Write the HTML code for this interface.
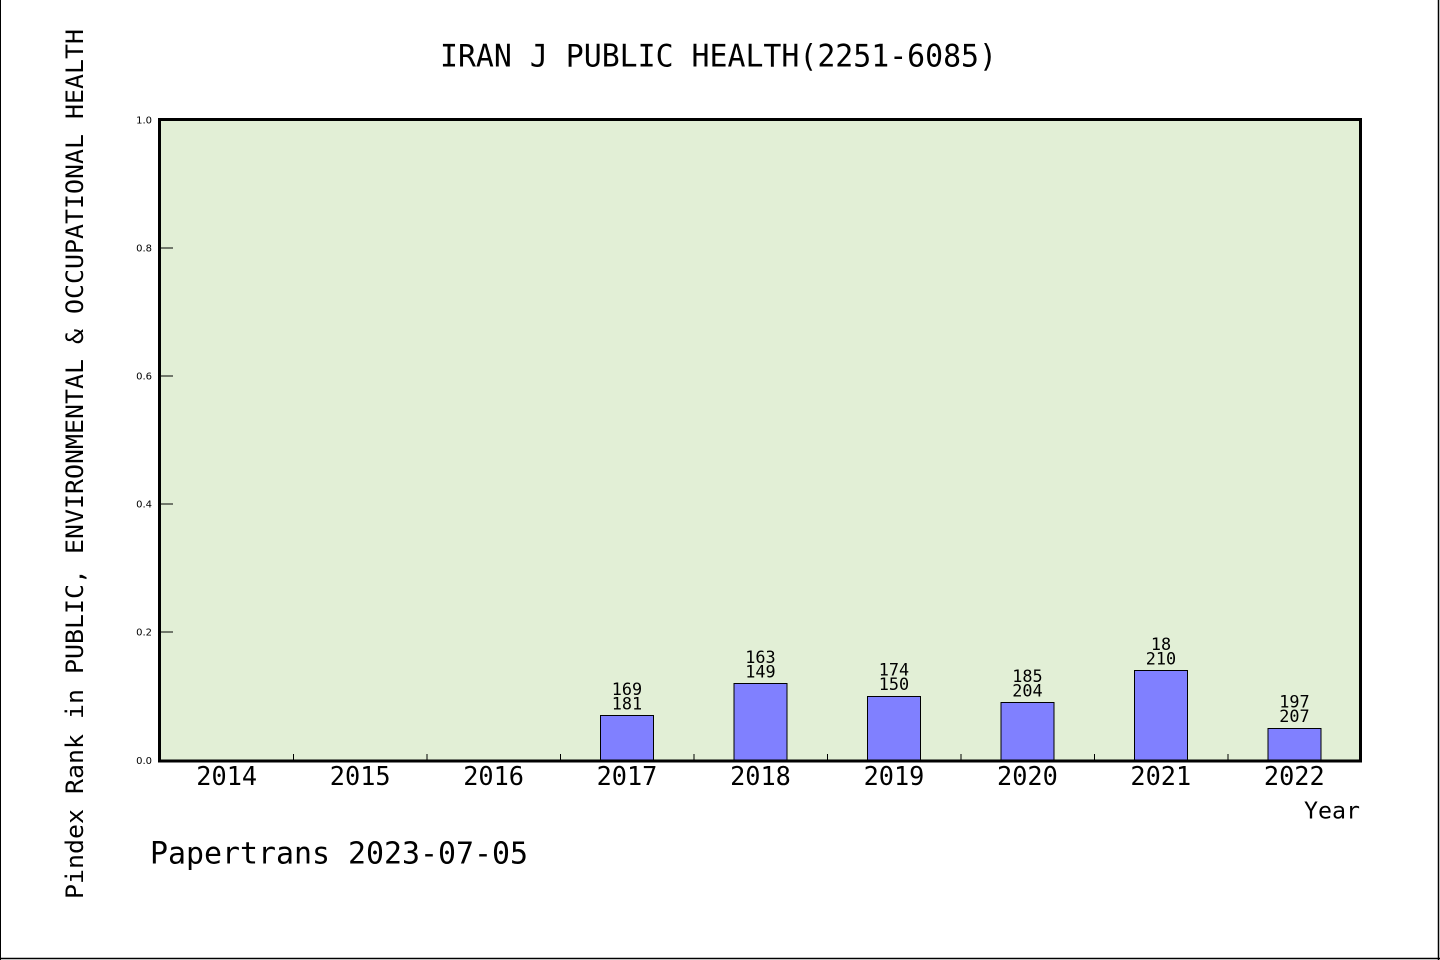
<!DOCTYPE html>
<html>
<head>
<meta charset="utf-8">
<style>
  html, body { margin: 0; padding: 0; background: #ffffff; }
  body { width: 1440px; height: 960px; overflow: hidden; }
  svg { display: block; }
  .m { font-family: "WenQuanYi Zen Hei", "DejaVu Sans Mono", "Liberation Sans", monospace; fill: #000; }
  .t { font-family: "DejaVu Sans", "Liberation Sans", sans-serif; font-size: 10px; fill: #000; }
</style>
</head>
<body>
<svg width="1440" height="960" viewBox="0 0 1440 960" xmlns="http://www.w3.org/2000/svg">
  <rect x="0" y="0" width="1440" height="960" fill="#ffffff"/>
  <!-- outer border -->
  <line x1="0.5" y1="0" x2="0.5" y2="960" stroke="#000" stroke-width="1"/>
  <line x1="1438.5" y1="0" x2="1438.5" y2="960" stroke="#000" stroke-width="1.5"/>
  <line x1="0" y1="958.5" x2="1440" y2="958.5" stroke="#000" stroke-width="1.5"/>

  <!-- title -->
  <text class="m" x="440" y="66.5" font-size="31" textLength="557" lengthAdjust="spacingAndGlyphs">IRAN J PUBLIC HEALTH(2251-6085)</text>

  <!-- plot background -->
  <rect x="159.5" y="119.5" width="1201" height="641.5" fill="#e2efd6"/>

  <!-- bars -->
  <g fill="#8080ff" stroke="#000" stroke-width="1">
    <rect x="600.5" y="715.5" width="53" height="46"/>
    <rect x="734" y="683.5" width="53" height="78"/>
    <rect x="867.5" y="696.5" width="53" height="65"/>
    <rect x="1001" y="702.5" width="53" height="59"/>
    <rect x="1134.5" y="670.5" width="53" height="91"/>
    <rect x="1268" y="728.5" width="53" height="33"/>
  </g>

  <!-- bar labels -->
  <g class="m" font-size="16.5" text-anchor="middle">
    <text x="627" y="695" textLength="30.4" lengthAdjust="spacingAndGlyphs">169</text>
    <text x="627" y="709.5" textLength="30.4" lengthAdjust="spacingAndGlyphs">181</text>
    <text x="760.5" y="663" textLength="30.4" lengthAdjust="spacingAndGlyphs">163</text>
    <text x="760.5" y="677.5" textLength="30.4" lengthAdjust="spacingAndGlyphs">149</text>
    <text x="894" y="675.5" textLength="30.4" lengthAdjust="spacingAndGlyphs">174</text>
    <text x="894" y="690" textLength="30.4" lengthAdjust="spacingAndGlyphs">150</text>
    <text x="1027.5" y="682" textLength="30.4" lengthAdjust="spacingAndGlyphs">185</text>
    <text x="1027.5" y="696.5" textLength="30.4" lengthAdjust="spacingAndGlyphs">204</text>
    <text x="1161" y="650" textLength="20.3" lengthAdjust="spacingAndGlyphs">18</text>
    <text x="1161" y="664.5" textLength="30.4" lengthAdjust="spacingAndGlyphs">210</text>
    <text x="1294.5" y="707.5" textLength="30.4" lengthAdjust="spacingAndGlyphs">197</text>
    <text x="1294.5" y="722" textLength="30.4" lengthAdjust="spacingAndGlyphs">207</text>
  </g>

  <!-- y ticks -->
  <g stroke="#000" stroke-width="1">
    <line x1="161" y1="248" x2="173" y2="248"/>
    <line x1="161" y1="376" x2="173" y2="376"/>
    <line x1="161" y1="504" x2="173" y2="504"/>
    <line x1="161" y1="632" x2="173" y2="632"/>
  </g>
  <!-- x ticks -->
  <g stroke="#000" stroke-width="1">
    <line x1="293.5" y1="754" x2="293.5" y2="760"/>
    <line x1="427" y1="754" x2="427" y2="760"/>
    <line x1="560.5" y1="754" x2="560.5" y2="760"/>
    <line x1="694" y1="754" x2="694" y2="760"/>
    <line x1="827.5" y1="754" x2="827.5" y2="760"/>
    <line x1="961" y1="754" x2="961" y2="760"/>
    <line x1="1094.5" y1="754" x2="1094.5" y2="760"/>
    <line x1="1228" y1="754" x2="1228" y2="760"/>
  </g>

  <!-- plot frame -->
  <rect x="159.5" y="119.5" width="1201" height="641.5" fill="none" stroke="#000" stroke-width="3"/>

  <!-- y tick labels -->
  <g class="t" text-anchor="end">
    <text x="152" y="123.6">1.0</text>
    <text x="152" y="251.6">0.8</text>
    <text x="152" y="379.6">0.6</text>
    <text x="152" y="507.6">0.4</text>
    <text x="152" y="635.6">0.2</text>
    <text x="152" y="764">0.0</text>
  </g>

  <!-- x labels -->
  <g class="m" font-size="26" text-anchor="middle">
    <text x="226.7" y="785" textLength="60.8" lengthAdjust="spacingAndGlyphs">2014</text>
    <text x="360.2" y="785" textLength="60.8" lengthAdjust="spacingAndGlyphs">2015</text>
    <text x="493.6" y="785" textLength="60.8" lengthAdjust="spacingAndGlyphs">2016</text>
    <text x="627" y="785" textLength="60.8" lengthAdjust="spacingAndGlyphs">2017</text>
    <text x="760.5" y="785" textLength="60.8" lengthAdjust="spacingAndGlyphs">2018</text>
    <text x="894" y="785" textLength="60.8" lengthAdjust="spacingAndGlyphs">2019</text>
    <text x="1027.4" y="785" textLength="60.8" lengthAdjust="spacingAndGlyphs">2020</text>
    <text x="1160.8" y="785" textLength="60.8" lengthAdjust="spacingAndGlyphs">2021</text>
    <text x="1294.3" y="785" textLength="60.8" lengthAdjust="spacingAndGlyphs">2022</text>
  </g>

  <!-- x axis title -->
  <text class="m" x="1360" y="818.5" font-size="23" text-anchor="end" textLength="56" lengthAdjust="spacingAndGlyphs">Year</text>

  <!-- y axis title -->
  <text class="m" transform="translate(83,464) rotate(-90)" font-size="24" text-anchor="middle" textLength="870" lengthAdjust="spacingAndGlyphs">Pindex Rank in PUBLIC, ENVIRONMENTAL &amp; OCCUPATIONAL HEALTH</text>

  <!-- footer -->
  <text class="m" x="150" y="863.5" font-size="30" textLength="378" lengthAdjust="spacingAndGlyphs">Papertrans 2023-07-05</text>
</svg>
</body>
</html>
